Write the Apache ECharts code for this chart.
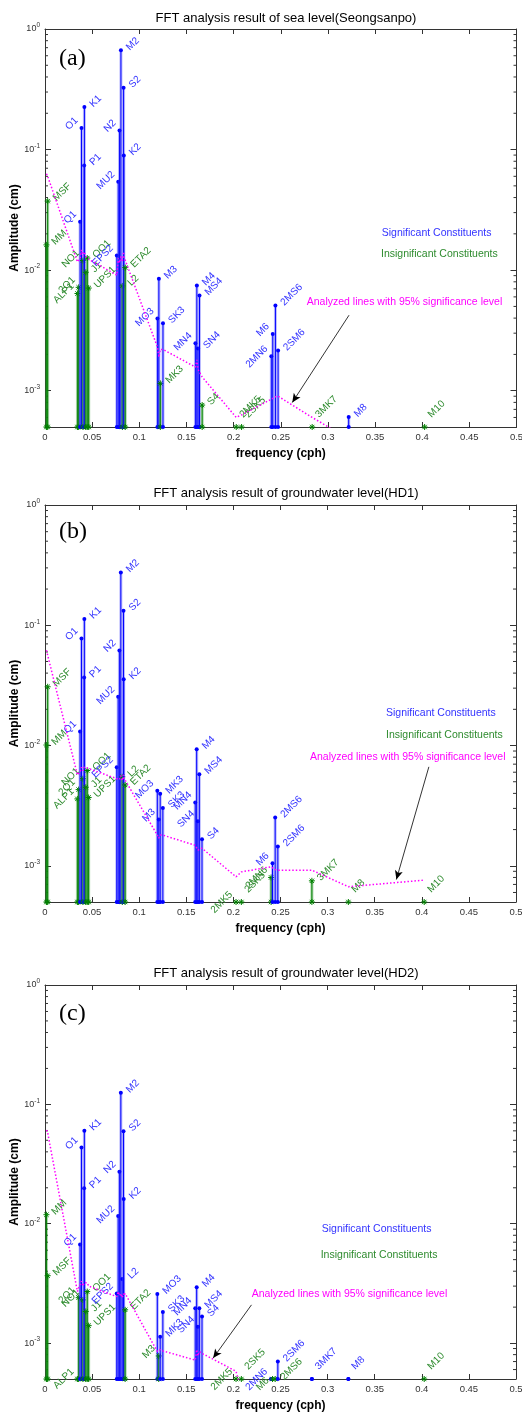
<!DOCTYPE html>
<html>
<head>
<meta charset="utf-8">
<script src="https://cdn.jsdelivr.net/npm/echarts@6.0.0/dist/echarts.min.js"></script>
<style>
  html, body { margin: 0; padding: 0; background: #fff; }
  #chart { width: 522px; height: 1412px; }
</style>
</head>
<body>
<div id="chart"></div>
<script>
// tidal constituents and their frequencies (cph)
const names = ['MM','MSF','ALP1','2Q1','Q1','O1','NO1','P1','K1','J1','OO1','UPS1',
  'EPS2','MU2','N2','M2','L2','S2','K2','ETA2','MO3','M3','MK3','SK3',
  'MN4','M4','SN4','MS4','S4','2MK5','2SK5','2MN6','M6','2MS6','2SM6','3MK7','M8','M10'];
const freqs = [0.0015122,0.0028219,0.0343966,0.0357064,0.0372185,0.0387307,0.0402686,0.0415526,0.0417807,0.0432929,0.0448308,0.0463430,
  0.0761773,0.0776895,0.0789992,0.0805114,0.0820236,0.0833333,0.0835615,0.0850736,0.1192421,0.1207671,0.1222921,0.1251141,
  0.1595106,0.1610228,0.1623326,0.1638447,0.1666667,0.2028035,0.2084474,0.2400221,0.2415342,0.2443561,0.2471781,0.2833149,0.3220456,0.4025570];

// (a) sea level, Seongsanpo
const ampA = [0.0162,0.0374,0.0064,0.0072,0.0252,0.151,0.012,0.0739,0.225,0.0096,0.0126,0.0071,
  0.0132,0.054,0.144,0.665,0.0074,0.326,0.0895,0.0105,0.00397,0.00847,0.00115,0.00363,
  0.00248,0.00746,0.00224,0.00617,0.00076,0.0005,0.0005,0.00193,0.00296,0.00509,0.00215,0.0005,0.000606,0.0005];
const sigA = [0,0,0,0,1,1,0,1,1,0,0,0, 1,1,1,1,0,1,1,0,1,1,0,1, 1,1,1,1,0,0,0,1,1,1,1,0,1,0];
const levelA = [0.063,0.060,0.0117,0.012,0.0125,0.0147,0.013,0.0142,0.0145,0.013,0.0125,0.0121,
  0.0091,0.0125,0.0115,0.013,0.0118,0.0142,0.013,0.0121,0.0023,0.0019,0.0022,0.0022,
  0.00157,0.0018,0.0015,0.00155,0.0013,0.0006,0.00063,0.00085,0.00087,0.00089,0.0009,0.0006,0.0004,null];

// (b) groundwater level, HD1
const ampB = [0.0101,0.0308,0.0036,0.0043,0.0131,0.0778,0.0053,0.0368,0.113,0.0045,0.0062,0.0037,
  0.0066,0.0254,0.0618,0.275,0.0055,0.132,0.0356,0.0047,0.0042,0.00243,0.00397,0.00303,
  0.00336,0.00933,0.00235,0.00578,0.00166,0.0005,0.0005,0.0008,0.00105,0.00252,0.00145,0.00075,0.0005,0.0005];
const sigB = [0,0,0,0,1,1,0,1,1,0,0,0, 1,1,1,1,0,1,1,0,1,1,1,1, 1,1,1,1,1,0,0,0,1,1,1,0,0,0];
const levelB = [0.062,0.060,0.0057,0.0055,0.006,0.0066,0.0062,0.0066,0.0066,0.0064,0.0065,0.0064,
  0.0053,0.0055,0.0052,0.0056,0.0051,0.0057,0.0054,0.0052,0.0018,0.0017,0.0018,0.0018,
  0.00148,0.0015,0.00135,0.0014,0.0014,0.00081,0.00089,0.00098,0.00096,0.00093,0.00092,0.00092,0.00067,0.00076];

// (c) groundwater level, HD2
const ampC = [0.0119,0.00367,0.0005,0.0024,0.0067,0.0434,0.0023,0.0198,0.0602,0.00184,0.0027,0.0014,
  0.0026,0.0116,0.0273,0.125,0.00345,0.0595,0.0161,0.0019,0.00258,0.00078,0.00113,0.00182,
  0.00196,0.00294,0.00137,0.00196,0.00167,0.0005,0.0005,0.0005,0.00042,0.00049,0.0007,0.0005,0.0005,0.0005];
const sigC = [0,0,0,0,1,1,0,1,1,0,0,0, 1,1,1,1,1,1,1,0,1,0,1,1, 1,1,1,1,1,0,0,1,0,0,1,1,1,0];
const levelC = [0.061,0.058,0.0027,0.0029,0.003,0.0033,0.003,0.0032,0.0032,0.0031,0.0032,0.003,
  0.00245,0.0027,0.0025,0.0026,0.0024,0.0026,0.0025,0.0026,0.00085,0.00082,0.00088,0.00086,
  0.00072,0.00088,0.00078,0.00085,0.00082,0.00058,0.0004,null,null,null,null,null,null,null];

const titles = ['FFT analysis result of sea level(Seongsanpo)',
  'FFT analysis result of groundwater level(HD1)',
  'FFT analysis result of groundwater level(HD2)'];
const tags = ['(a)', '(b)', '(c)'];
// arrow annotation [freq, amp] start -> end
const arrowFrom = [[0.3224, 0.00423], [0.4075, 0.00665], [0.2192, 0.00209]];
const arrowTo = [[0.2622, 0.000798], [0.373, 0.000769], [0.1785, 0.000748]];

// labels written on the left of their stem
const leftA = ['O1','Q1','N2','MU2','NO1','2Q1','ALP1','EPS2','MO3','MN4','2MN6','M6'];
const leftB = ['O1','N2','MU2','Q1','NO1','2Q1','ALP1','EPS2','MO3','M3','MN4','SN4','2MK5','2MN6','M6'];
const leftC = ['O1','N2','MU2','Q1','2Q1','NO1','ALP1','EPS2','M3','MN4','SN4','2MK5','2MN6','M6'];

const panels = [
  { amp: ampA, sig: sigA, level: levelA, left: leftA },
  { amp: ampB, sig: sigB, level: levelB, left: leftB },
  { amp: ampC, sig: sigC, level: levelC, left: leftC }
];

const yMin = 0.0005, yMax = 1;
const FONT = '"Liberation Sans", Arial, sans-serif';
const BLUE = '#0000ff', GREEN = '#008000';

const grids = [
  { left: 45, top: 29, width: 471.5, height: 398 },
  { left: 45, top: 505, width: 471, height: 397 },
  { left: 45, top: 985, width: 471, height: 394 }
];
const titleTop = [7, 482, 962];
const tagTop = [47, 520, 1002];
const legendPos = [
  [[381.7, 235], [381, 256], [306.7, 304]],
  [[386, 715], [386, 737], [310, 759]],
  [[321.7, 1231], [320.7, 1257], [251.7, 1296]]
];

// minor ticks 2..9 of each decade
const minorTicks = [];
for (let e = -4; e < 0; e++) {
  for (let m = 2; m <= 9; m++) {
    const v = m * Math.pow(10, e);
    if (v > yMin && v < yMax) minorTicks.push(v);
  }
}

function logLabel(v) {
  const e = Math.log10(v);
  if (Math.abs(e - Math.round(e)) > 1e-6) return '';
  return '{b|10}{s|' + Math.round(e) + '}';
}

function star(x, y, r, color) {
  const d = r * 0.72;
  const st = { stroke: color, lineWidth: 1 };
  return [
    { type: 'line', shape: { x1: x - r, y1: y, x2: x + r, y2: y }, style: st },
    { type: 'line', shape: { x1: x, y1: y - r, x2: x, y2: y + r }, style: st },
    { type: 'line', shape: { x1: x - d, y1: y - d, x2: x + d, y2: y + d }, style: st },
    { type: 'line', shape: { x1: x - d, y1: y + d, x2: x + d, y2: y - d }, style: st }
  ];
}

function stemRender(p) {
  return function (params, api) {
    const k = params.dataIndex;
    const f = api.value(0), a = api.value(1), sig = api.value(2);
    const base = api.coord([f, yMin]);
    const top = api.coord([f, Math.max(a, yMin)]);
    const at = api.coord([f, a]);
    const col = sig ? BLUE : GREEN;
    const band = sig ? 'rgba(60,60,255,0.35)' : 'rgba(40,150,40,0.4)';
    const kids = [
      { type: 'line', shape: { x1: base[0], y1: base[1], x2: top[0], y2: top[1] }, style: { stroke: band, lineWidth: 3 } },
      { type: 'line', shape: { x1: base[0], y1: base[1], x2: top[0], y2: top[1] }, style: { stroke: col, lineWidth: 1 } }
    ];
    if (sig) {
      kids.push({ type: 'circle', shape: { cx: base[0], cy: base[1], r: 2 }, style: { fill: col } });
      kids.push({ type: 'circle', shape: { cx: top[0], cy: top[1], r: 2 }, style: { fill: col } });
    } else {
      kids.push.apply(kids, star(base[0], base[1], 3, col));
      if (a > yMin) kids.push.apply(kids, star(top[0], top[1], 3, col));
    }
    const isLeft = p.left.indexOf(names[k]) >= 0;
    let lx, ly;
    if (isLeft) { lx = at[0] - 5; ly = at[1] - 9; }
    else if (a === yMin) { lx = at[0] + 5; ly = at[1] - 11; }
    else { lx = at[0] + 7; ly = at[1] - 1.5; }
    kids.push({
      type: 'text', x: lx, y: ly, rotation: Math.PI / 4,
      style: {
        text: names[k], fill: sig ? '#3333ff' : '#2e8b2e',
        font: '10px ' + FONT,
        textAlign: isLeft ? 'right' : 'left', textVerticalAlign: 'middle'
      }
    });
    return { type: 'group', children: kids };
  };
}

function minorRender(params, api) {
  const v = api.value(1);
  const l = api.coord([0, v]), r = api.coord([0.5, v]);
  const st = { stroke: '#333', lineWidth: 1 };
  return { type: 'group', children: [
    { type: 'line', shape: { x1: l[0], y1: l[1], x2: l[0] + 3, y2: l[1] }, style: st },
    { type: 'line', shape: { x1: r[0] - 3, y1: r[1], x2: r[0], y2: r[1] }, style: st }
  ] };
}

const xAxis = [], yAxis = [], series = [], title = [], graphic = [];
const axisColor = '#333';

grids.forEach(function (g, i) {
  const p = panels[i];
  xAxis.push({
    type: 'value', gridIndex: i, min: 0, max: 0.5, interval: 0.05, position: 'bottom',
    axisLine: { onZero: false, lineStyle: { color: axisColor } },
    axisTick: { inside: true, length: 5, lineStyle: { color: axisColor } },
    axisLabel: { color: axisColor, fontSize: 9.5, fontFamily: FONT, margin: 5,
      formatter: function (v) { return String(Math.round(v * 100) / 100); } },
    splitLine: { show: false },
    name: 'frequency (cph)', nameLocation: 'middle', nameGap: 21, nameMoveOverlap: false,
    nameTextStyle: { fontWeight: 'bold', fontSize: 12, color: '#000', fontFamily: FONT }
  });
  xAxis.push({
    type: 'value', gridIndex: i, min: 0, max: 0.5, interval: 0.05, position: 'top',
    axisLine: { onZero: false, lineStyle: { color: axisColor } },
    axisTick: { inside: true, length: 5, lineStyle: { color: axisColor } },
    axisLabel: { show: false }, splitLine: { show: false }
  });
  yAxis.push({
    type: 'log', logBase: 10, gridIndex: i, min: yMin, max: yMax, position: 'left',
    axisLine: { show: true, onZero: false, lineStyle: { color: axisColor } },
    axisTick: { show: true, inside: true, length: 6, lineStyle: { color: axisColor } },
    axisLabel: { formatter: logLabel, margin: 5,
      rich: {
        b: { fontSize: 9, color: axisColor, fontFamily: FONT, lineHeight: 14 },
        s: { fontSize: 6.5, color: axisColor, fontFamily: FONT, lineHeight: 8, verticalAlign: 'top' }
      } },
    splitLine: { show: false },
    name: 'Amplitude (cm)', nameLocation: 'middle', nameGap: 24, nameMoveOverlap: false,
    nameTextStyle: { fontWeight: 'bold', fontSize: 12, color: '#000', fontFamily: FONT }
  });
  yAxis.push({
    type: 'log', logBase: 10, gridIndex: i, min: yMin, max: yMax, position: 'right',
    axisLine: { show: true, onZero: false, lineStyle: { color: axisColor } },
    axisTick: { show: true, inside: true, length: 6, lineStyle: { color: axisColor } },
    axisLabel: { show: false }, splitLine: { show: false }
  });

  series.push({
    type: 'custom', xAxisIndex: 2 * i, yAxisIndex: 2 * i, silent: true, z: 1,
    renderItem: minorRender, data: minorTicks.map(function (v) { return [0, v]; })
  });
  series.push({
    type: 'custom', xAxisIndex: 2 * i, yAxisIndex: 2 * i, silent: true, z: 2,
    renderItem: stemRender(p),
    data: freqs.map(function (f, k) { return [f, p.amp[k], p.sig[k]]; })
  });
  const lvl = [];
  freqs.forEach(function (f, k) { if (p.level[k] != null) lvl.push([f, p.level[k]]); });
  series.push({
    type: 'line', xAxisIndex: 2 * i, yAxisIndex: 2 * i, silent: true, z: 3,
    data: lvl, showSymbol: false, clip: true,
    lineStyle: { color: '#ff00ff', width: 1.5, type: [1.5, 2] },
    markLine: {
      silent: true, symbol: ['none', 'arrow'], symbolSize: [6, 9],
      label: { show: false },
      lineStyle: { color: '#000', width: 0.8, type: 'solid' },
      data: [[{ coord: arrowFrom[i] }, { coord: arrowTo[i] }]]
    }
  });

  title.push({
    text: titles[i], left: 281, top: titleTop[i], textAlign: 'center',
    textStyle: { fontSize: 13, fontWeight: 'normal', color: '#000', fontFamily: FONT }
  });
  graphic.push({ type: 'text', left: 59, top: tagTop[i],
    style: { text: tags[i], fill: '#000', font: '24px "Liberation Serif", "Times New Roman", serif' } });
  const lp = legendPos[i];
  const legendText = ['Significant Constituents', 'Insignificant Constituents', 'Analyzed lines with 95% significance level'];
  const legendColor = ['#3333ff', '#2e8b2e', '#ff00ff'];
  lp.forEach(function (pos, j) {
    graphic.push({ type: 'text', left: pos[0], top: pos[1] - 7,
      style: { text: legendText[j], fill: legendColor[j], font: '10.5px ' + FONT } });
  });
});

const chart = echarts.init(document.getElementById('chart'));
chart.setOption({
  animation: false,
  backgroundColor: '#fff',
  title: title,
  grid: grids.map(function (g) { return Object.assign({ containLabel: false, outerBoundsMode: 'none' }, g); }),
  xAxis: xAxis,
  yAxis: yAxis,
  series: series,
  graphic: graphic
});
</script>
</body>
</html>
